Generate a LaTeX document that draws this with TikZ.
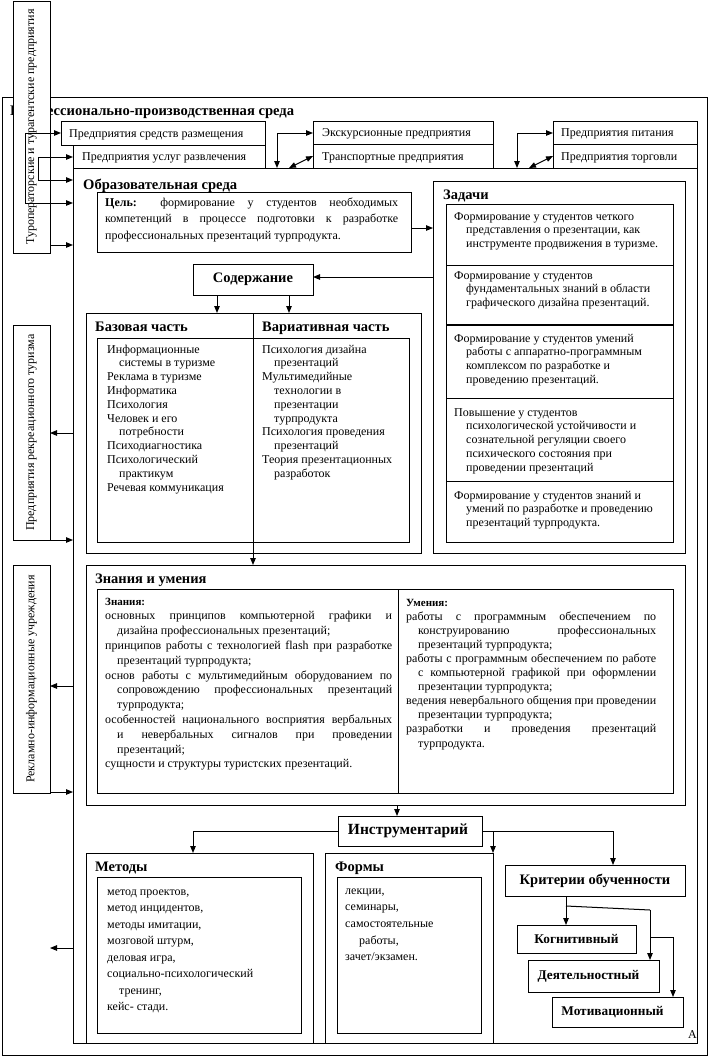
\documentclass[tikz,border=0pt]{standalone}
\usepackage{fontspec}
\setmainfont{Liberation Serif}
\usetikzlibrary{arrows.meta}
\newcommand\Ln[1]{\hbox{#1}}
\newcommand\In[1]{\hbox{\kern12pt #1}}
\newcommand\Jl[2]{\hbox to #1pt{#2}}
\newcommand\Ji[2]{\hbox{\kern12pt\hbox to #1pt{#2}}}
\newcommand\Blk[2]{\vtop{\baselineskip=#1pt\relax#2}}
\newcommand\mkbox[7][]{\node[bx,minimum width=#5-#3,minimum height=#6-#4,#1] (#2) at (#3,#4) {#7};}
\begin{document}
\begin{tikzpicture}[x=1pt,y=-1pt,
 bx/.style={draw,line width=1pt,fill=white,inner sep=0pt,outer sep=0pt,anchor=north west},
 tx/.style={inner sep=0pt,anchor=base west,font=\fontsize{12}{14}\selectfont},
 ttl/.style={inner sep=0pt,anchor=base west,font=\bfseries\fontsize{14.5}{16}\selectfont},
 ttlb/.style={inner sep=0pt,anchor=base west,font=\bfseries\fontsize{14.6}{16}\selectfont},
 lbl/.style={font=\bfseries\fontsize{14.5}{16}\selectfont},
 blbl/.style={font=\bfseries\fontsize{15.5}{17}\selectfont},
 slbl/.style={font=\bfseries\fontsize{13.3}{15}\selectfont},
 arr/.style={line width=1pt,-{Triangle[length=7pt,width=5.5pt]}},
 darr/.style={line width=1pt,{Triangle[length=7pt,width=5.5pt]}-{Triangle[length=7pt,width=5.5pt]}},
 ln/.style={line width=1pt}]
\useasboundingbox (0,0) rectangle (710,1058);
\fill[white] (0,0) rectangle (710,1058);

% outer environment
\mkbox{outer}{2}{97}{707}{1055}{}
\node[ttlb] (tpro) at (10,115) {Профессионально-производственная среда};

% enterprise boxes
\mkbox{psr}{61}{121}{265}{145}{}
\node[tx] (tpsr) at (69,137) {Предприятия средств размещения};
\mkbox{pur}{73}{145}{265}{175}{}
\node[tx] (tpur) at (82,160) {Предприятия услуг развлечения};
\mkbox{ekp}{313}{121}{493}{144}{}
\node[tx] (tekp) at (322,136) {Экскурсионные предприятия};
\mkbox{trp}{313}{144}{493}{168}{}
\node[tx] (ttrp) at (322,160) {Транспортные предприятия};
\mkbox{pit}{553}{121}{697}{144}{}
\node[tx] (tpit) at (561,136) {Предприятия питания};
\mkbox{trg}{553}{144}{697}{168}{}
\node[tx] (ttrg) at (561,160) {Предприятия торговли};

% educational environment
\mkbox{obr}{73}{168}{697}{1043}{}
\node[ttlb] (tobr) at (83,189) {Образовательная среда};

\mkbox{cel}{97}{192}{411}{252}{}
\node[tx] (tcel) at (105,206) {\Blk{16.5}{\Jl{293}{\textbf{Цель:} формирование у студентов необходимых}\Jl{293}{компетенций в процессе подготовки к разработке}\Ln{профессиональных презентаций турпродукта.}}};

% tasks
\mkbox{zad}{433}{181}{685}{553}{}
\node[ttl] (tzad) at (443,199) {Задачи};
\mkbox{zadi}{446}{204}{673}{542}{}
\draw[ln] (zadi.west |- 0,265) -- (zadi.east |- 0,265);
\draw[line width=2.2pt] (zadi.west |- 0,325) -- (zadi.east |- 0,325);
\draw[ln] (zadi.west |- 0,398) -- (zadi.east |- 0,398);
\draw[ln] (zadi.west |- 0,481) -- (zadi.east |- 0,481);
\node[tx] (tz1) at (454,220) {\Blk{13.8}{\Ln{Формирование у студентов четкого}\In{представления о презентации, как}\In{инструменте продвижения в туризме.}}};
\node[tx] (tz2) at (454,279) {\Blk{13.8}{\Ln{Формирование у студентов}\In{фундаментальных знаний в области}\In{графического дизайна презентаций.}}};
\node[tx] (tz3) at (454,342) {\Blk{13.8}{\Ln{Формирование у студентов умений}\In{работы с аппаратно-программным}\In{комплексом по разработке и}\In{проведению презентаций.}}};
\node[tx] (tz4) at (454,416) {\Blk{13.8}{\Ln{Повышение у студентов}\In{психологической устойчивости и}\In{сознательной регуляции своего}\In{психического состояния при}\In{проведении презентаций}}};
\node[tx] (tz5) at (454,499) {\Blk{13.8}{\Ln{Формирование у студентов знаний и}\In{умений по разработке и проведению}\In{презентаций турпродукта.}}};

% content
\mkbox[lbl]{sod}{193}{264}{313}{295}{Содержание}
\mkbox{cont}{86}{313}{421}{553}{}
\mkbox{conti}{97}{338}{409}{542}{}
\draw[ln] (cont.north -| 253,0) -- (cont.south -| 253,0);
\node[ttl] (tbaz) at (95,331) {Базовая часть};
\node[ttl] (tvar) at (262,331) {Вариативная часть};
\node[tx] (tb) at (107,353) {\Blk{13.8}{\Ln{Информационные}\In{системы в туризме}\Ln{Реклама в туризме}\Ln{Информатика}\Ln{Психология}\Ln{Человек и его}\In{потребности}\Ln{Психодиагностика}\Ln{Психологический}\In{практикум}\Ln{Речевая коммуникация}}};
\node[tx] (tv) at (262,353) {\Blk{13.8}{\Ln{Психология дизайна}\In{презентаций}\Ln{Мультимедийные}\In{технологии в}\In{презентации}\In{турпродукта}\Ln{Психология проведения}\In{презентаций}\Ln{Теория презентационных}\In{разработок}}};

% knowledge and skills
\mkbox{zn}{86}{565}{685}{805}{}
\node[ttl] (tzn) at (95,583) {Знания и умения};
\mkbox{zni}{97}{589}{673}{793}{}
\draw[ln] (zni.north -| 398,0) -- (zni.south -| 398,0);
\node[tx] (tznan) at (105,605) {\Blk{14.8}{\Ln{\fontsize{11}{13}\selectfont\bfseries Знания:}\Jl{287}{основных принципов компьютерной графики и}\In{дизайна профессиональных презентаций;}\Jl{287}{принципов работы с технологией flash при разработке}\In{презентаций турпродукта;}\Jl{287}{основ работы с мультимедийным оборудованием по}\Ji{275}{сопровождению профессиональных презентаций}\In{турпродукта;}\Jl{287}{особенностей национального восприятия вербальных}\Ji{275}{и невербальных сигналов при проведении}\In{презентаций;}\Ln{сущности и структуры туристских презентаций.}}};
\node[tx] (tumen) at (406,606) {\Blk{14.1}{\Ln{\fontsize{11}{13}\selectfont\bfseries Умения:}\Jl{250}{работы с программным обеспечением по}\Ji{238}{конструированию профессиональных}\In{презентаций турпродукта;}\Jl{250}{работы с программным обеспечением по работе}\Ji{238}{с компьютерной графикой при оформлении}\In{презентации турпродукта;}\Jl{250}{ведения невербального общения при проведении}\In{презентации турпродукта;}\Jl{250}{разработки и проведения презентаций}\In{турпродукта.}}};

% tools
\mkbox[blbl]{instr}{338}{816}{482}{846}{\hspace*{-4pt}Инструментарий}
\mkbox{met}{86}{853}{313}{1043}{}
\node[ttl] (tmeth) at (95,871) {Методы};
\mkbox{meti}{97}{877}{301}{1033}{}
\node[tx] (tmet) at (107,895) {\Blk{16.5}{\Ln{метод проектов,}\Ln{метод инцидентов,}\Ln{методы имитации,}\Ln{мозговой штурм,}\Ln{деловая игра,}\Ln{социально-психологический}\In{тренинг,}\Ln{кейс- стади.}}};
\mkbox{frm}{325}{853}{493}{1043}{}
\node[ttl] (tform) at (335,871) {Формы};
\mkbox{frmi}{337}{877}{481}{1033}{}
\node[tx] (tfrm) at (345,894) {\Blk{16.7}{\Ln{лекции,}\Ln{семинары,}\Ln{самостоятельные}\hbox{\kern14pt работы,}\Ln{зачет/экзамен.}}};

% criteria
\mkbox[lbl]{krit}{505}{865}{685}{896}{Критерии обученности}
\mkbox[slbl]{kog}{517}{925}{636}{953}{Когнитивный}
\mkbox[slbl]{dey}{528}{960}{659}{992}{\hspace*{-10pt}Деятельностный}
\mkbox[slbl]{mot}{552}{997}{683}{1027}{\hspace*{-10pt}Мотивационный}
\node[tx] (tA) at (688,1038) {А};

% side boxes
\mkbox{v1}{13}{1}{50}{253}{}
\node[tx,rotate=90,anchor=center] (tv1) at (v1.center) {Туроператорские и турагентские предприятия};
\mkbox{v2}{13}{325}{50}{540}{}
\node[tx,rotate=90,anchor=center] (tv2) at (v2.center) {Предприятия рекреационного туризма};
\mkbox{v3}{13}{565}{50}{793}{}
\node[tx,rotate=90,anchor=center] (tv3) at (v3.center) {Рекламно-информационные учреждения};

% left connectors
\coordinate (a1) at (25,133);
\coordinate (a2) at (25,203);
\draw[ln] (a1) -- (a2);
\draw[arr] (a1) -- (psr.west);
\draw[arr] (a2) -- (obr.west |- a2);
\coordinate (b1) at (38,157);
\coordinate (b2) at (38,180);
\draw[ln] (b1) -- (b2);
\draw[arr] (b1) -- (pur.west |- b1);
\draw[arr] (b2) -- (obr.west |- b2);
\draw[arr] (v1.east |- 0,245) -- (obr.west |- 0,245);
\draw[arr] (obr.west |- 0,433) -- (v2.east |- 0,433);
\draw[arr] (v2.east |- 0,540) -- (obr.west |- 0,540);
\draw[arr] (obr.west |- 0,686) -- (v3.east |- 0,686);
\draw[arr] (v3.east |- 0,792) -- (obr.west |- 0,792);
\coordinate (fe) at (50,948);
\draw[arr] (obr.west |- fe) -- (fe);

% top connectors
\coordinate (c1) at (277,133);
\draw[arr] (c1) -- (ekp.west |- c1);
\draw[arr] (c1) -- (obr.north -| c1);
\coordinate (c2) at (289,168);
\draw[darr] (c2) -- (trp.west);
\coordinate (d1) at (517,133);
\draw[arr] (d1) -- (pit.west |- d1);
\draw[arr] (d1) -- (obr.north -| d1);
\coordinate (d2) at (529,168);
\draw[darr] (d2) -- (trg.west);

% inner connectors
\draw[arr] (cel.east |- 0,228) -- (zad.west |- 0,228);
\draw[arr] (zad.west |- 0,277) -- (sod.east |- 0,277);
\draw[arr] (sod.south -| 217,0) -- (cont.north -| 217,0);
\draw[arr] (sod.south -| 289,0) -- (cont.north -| 289,0);
\draw[arr] (cont.south -| 253,0) -- (zn.north -| 253,0);
\draw[arr] (zn.south -| 397,0) -- (instr.north -| 397,0);
\draw[arr] (instr.west) -| (met.north -| 193,0);
\draw[arr] (instr.east) -| (krit.north -| 613,0);
\draw[arr] (instr.east -| frm.north east) -- (frm.north east);
\coordinate (k1) at (566,906);
\coordinate (k2) at (650,910);
\coordinate (k3) at (650,937);
\draw[arr] (krit.south -| k1) -- (kog.north -| k1);
\draw[ln] (k1) -- (k2);
\draw[arr] (k2) -- (dey.north -| k2);
\draw[arr] (k3) -| (mot.north -| 673,0);
\end{tikzpicture}
\end{document}
